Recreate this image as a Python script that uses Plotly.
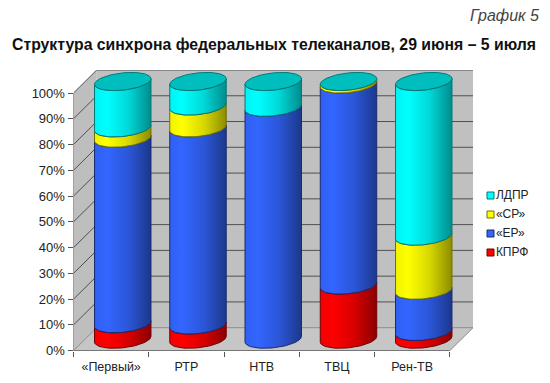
import numpy as np
import plotly.graph_objects as go

# ---- data (percent)
categories = ["«Первый»", "РТР", "НТВ", "ТВЦ", "Рен-ТВ"]
series_names = ["КПРФ", "«ЕР»", "«СР»", "ЛДПР"]
kprf = [6, 5.5, 0, 21, 3]
er = [72, 76.5, 90, 78, 16]
sr = [4, 8.5, 0, 1, 21]
ldpr = [18, 9.5, 10, 0, 60]
y_ticks = [0, 10, 20, 30, 40, 50, 60, 70, 80, 90, 100]
y_labels = [f"{v}%" for v in y_ticks]

# ---- pseudo-3D geometry, in axis units
W, H = 550, 383
PX_X = 75.44          # pixels per category
PX_Y = 2.577          # pixels per percent
L, R, T, B = 73.5, 473.0, 70.0, 350.7
DX = 23.3 / PX_X      # depth offset of back wall
DY = 23.0 / PX_Y
N = len(categories)
RX = 28.3 / PX_X      # cylinder half width
RY = 8.6 / PX_Y       # ellipse half height
SHEAR = 2.85 / PX_Y   # ellipse tilt

colors = ["#FF0000", "#3366FF", "#FFFF00", "#00FFFF"]
edges = ["#700000", "#1A2A70", "#707000", "#007878"]
CAP = "#00BEBE"

def shade(hex_color):
    r, g, b = [int(hex_color[i:i + 2], 16) for i in (1, 3, 5)]
    def mix(f):
        return f"rgb({int(r * f)},{int(g * f)},{int(b * f)})"
    return [[0, mix(0.95)], [0.22, mix(1.0)], [0.6, mix(0.85)], [1, mix(0.55)]]

def lip(cx, v, reverse=False):
    t = np.linspace(np.pi, 2 * np.pi, 41)
    if reverse:
        t = t[::-1]
    return cx + RX * np.cos(t), v + DY / 2 + SHEAR * np.cos(t) + RY * np.sin(t)

fig = go.Figure()

def poly(xs, ys, fill, line="rgba(0,0,0,0)", width=0):
    fig.add_trace(go.Scatter(x=xs, y=ys, mode="lines", fill="toself", fillcolor=fill,
                             line=dict(color=line, width=width), hoverinfo="skip", showlegend=False))

# walls and floor
WALL = "#C0C0C0"
poly([DX, N + DX, N + DX, DX, DX], [DY, DY, 100 + DY, 100 + DY, DY], WALL)
poly([0, DX, DX, 0, 0], [0, DY, 100 + DY, 100, 0], "#BEBEBE")
poly([0, N, N + DX, DX, 0], [0, 0, DY, DY, 0], "#C6C6C6")

# grid lines
gx, gy = [], []
for v in y_ticks[1:]:
    gx += [0, DX, N + DX, None]
    gy += [v, v + DY, v + DY, None]
fig.add_trace(go.Scatter(x=gx, y=gy, mode="lines", line=dict(color="#505050", width=1),
                         hoverinfo="skip", showlegend=False))
# floor outline
fig.add_trace(go.Scatter(x=[0, DX, N + DX, N, None, 0, N],
                         y=[0, DY, DY, 0, None, 0, 0], mode="lines",
                         line=dict(color="#8A8A8A", width=1), hoverinfo="skip", showlegend=False))
# axes
fig.add_trace(go.Scatter(x=[0, 0, None, 0, N], y=[100, 0, None, 0, 0], mode="lines",
                         line=dict(color="#555555", width=1), hoverinfo="skip", showlegend=False))

# cylinders
values = [kprf, er, sr, ldpr]
for i in range(N):
    cx = i + 0.5 + DX / 2
    base = 0.0
    for s, series in enumerate(values):
        v = series[i]
        if v <= 0:
            continue
        top = base + v
        x1, y1 = lip(cx, top)
        x2, y2 = lip(cx, base, reverse=True)
        xs = np.concatenate([x1, x2, x1[:1]])
        ys = np.concatenate([y1, y2, y1[:1]])
        fig.add_trace(go.Scatter(x=xs, y=ys, mode="lines", fill="toself",
                                 fillgradient=dict(type="horizontal", colorscale=shade(colors[s])),
                                 line=dict(color=edges[s], width=1),
                                 name=series_names[s], hoverinfo="skip", showlegend=False))
        base = top
    t = np.linspace(0, 2 * np.pi, 81)
    poly(cx + RX * np.cos(t), base + DY / 2 + SHEAR * np.cos(t) + RY * np.sin(t), CAP, edges[3], 1)

# legend, drawn on a page-sized overlay axis (pixel units)
LEG_X = 490.5
leg_rows = [195.5, 214.5, 233.5, 252.5]
fig.add_trace(go.Scatter(x=[LEG_X] * 4, y=leg_rows, mode="markers+text", text=series_names[::-1],
                         textposition="middle right", xaxis="x2", yaxis="y2",
                         textfont=dict(family="Liberation Sans, Arial", size=12, color="#222222"),
                         marker=dict(symbol="square", size=7, color=colors[::-1],
                                     line=dict(color=edges[::-1], width=1)),
                         hoverinfo="skip", showlegend=False))

fig.update_layout(
    width=W, height=H, autosize=False,
    paper_bgcolor="white", plot_bgcolor="rgba(0,0,0,0)",
    margin=dict(l=0, r=0, t=0, b=0, pad=0, autoexpand=False),
    font=dict(family="Liberation Sans, Arial", size=12, color="#222222"),
    annotations=[
        dict(text="<b>Структура синхрона федеральных телеканалов, 29 июня – 5 июля</b>",
             xref="paper", yref="paper", x=274 / W, y=1 - 44 / H, xanchor="center", yanchor="middle",
             showarrow=False, font=dict(size=15.8, color="#111111")),
        dict(text="<i>График 5</i>", xref="paper", yref="paper", x=541 / W, y=1 - 16 / H,
             xanchor="right", yanchor="middle", showarrow=False,
             font=dict(size=16, color="#444444")),
    ],
    showlegend=False,
    xaxis=dict(domain=[L / W, R / W], range=[0, N + DX], tickvals=[i + 0.5 for i in range(N)],
               ticktext=categories, ticks="outside", ticklen=4, tickcolor="rgba(0,0,0,0)",
               showgrid=False, zeroline=False, showline=False, tickfont=dict(size=12.5),
               minor=dict(tickvals=list(range(N + 1)), ticks="outside", ticklen=5,
                          tickcolor="#555555", showgrid=False)),
    yaxis=dict(domain=[1 - B / H, 1 - T / H], range=[0, 100 + DY], tickvals=y_ticks,
               ticktext=y_labels, ticks="outside", ticklen=5, tickcolor="#555555",
               showgrid=False, zeroline=False, showline=False, tickfont=dict(size=13)),
    xaxis2=dict(domain=[0, 1], range=[0, W], visible=False, anchor="y2"),
    yaxis2=dict(domain=[0, 1], range=[H, 0], visible=False, anchor="x2"),
)
fig.write_html("out.html", config=dict(displayModeBar=False),
               post_script="document.body.style.margin='0';")
